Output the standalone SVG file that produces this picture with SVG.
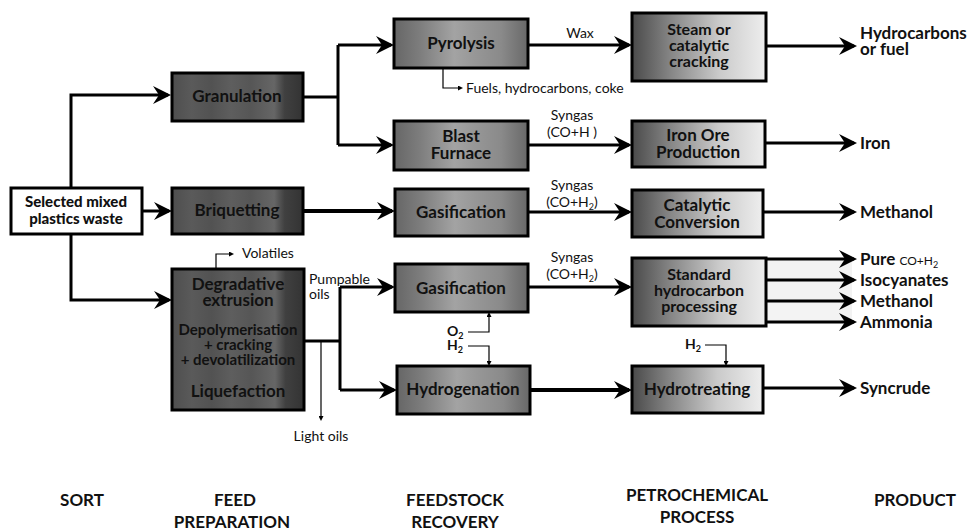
<svg xmlns="http://www.w3.org/2000/svg" width="975" height="532" viewBox="0 0 975 532">
<style>
.box{stroke:#000;stroke-width:3}
.t{font-family:Lato,'Liberation Sans',sans-serif;font-weight:bold;font-size:16px;text-anchor:middle;fill:#111}
.big{font-size:17px}
.lbl{font-family:Lato,'Liberation Sans',sans-serif;font-size:14px;fill:#111}
.mid{text-anchor:middle}
.prod{font-family:Lato,'Liberation Sans',sans-serif;font-weight:bold;font-size:17px;fill:#111}
.cat{font-family:Lato,'Liberation Sans',sans-serif;font-weight:bold;font-size:17px;text-anchor:middle;fill:#111}
.thick{stroke:#000;stroke-width:3;fill:none;marker-end:url(#ah)}
.thick4{stroke:#000;stroke-width:3.8;fill:none;marker-end:url(#ah)}
.line{stroke:#000;stroke-width:3;fill:none}
.thin{stroke:#000;stroke-width:1.2;fill:none;marker-end:url(#sa)}
</style>
<defs>
<marker id="ah" markerUnits="userSpaceOnUse" markerWidth="18" markerHeight="18" viewBox="0 0 18 18" refX="15" refY="9" orient="auto"><path d="M0,0 L18,9 L0,18 L6,9 Z" fill="#000"/></marker>
<marker id="sa" markerUnits="userSpaceOnUse" markerWidth="5" markerHeight="5" viewBox="0 0 5 5" refX="0" refY="2.5" orient="auto"><path d="M0,0 L5,2.5 L0,5 Z" fill="#000"/></marker>
<linearGradient id="gDark" x1="0" y1="0" x2="1" y2="0">
<stop offset="0" stop-color="#4e4e4e"/><stop offset="0.15" stop-color="#5a5a5a"/><stop offset="0.3" stop-color="#525252"/><stop offset="0.45" stop-color="#5e5e5e"/><stop offset="0.6" stop-color="#565656"/><stop offset="0.78" stop-color="#666"/><stop offset="0.86" stop-color="#404040"/><stop offset="1" stop-color="#333"/>
</linearGradient>
<linearGradient id="gMid" x1="0" y1="0" x2="1" y2="0">
<stop offset="0" stop-color="#666"/><stop offset="0.2" stop-color="#7e7e7e"/><stop offset="0.45" stop-color="#a3a3a3"/><stop offset="0.6" stop-color="#979797"/><stop offset="0.8" stop-color="#8a8a8a"/><stop offset="1" stop-color="#686868"/>
</linearGradient>
<linearGradient id="gLight" x1="0" y1="0" x2="1" y2="0">
<stop offset="0" stop-color="#4a4a4a"/><stop offset="0.3" stop-color="#888"/><stop offset="0.65" stop-color="#cacaca"/><stop offset="1" stop-color="#eee"/>
</linearGradient>
</defs>
<rect width="975" height="532" fill="#fff"/>

<g id="connectors">
<rect x="766" y="259" width="86" height="63" fill="#f3f3f3"/>
<path class="thick" d="M71,188 V95 H168"/>
<path class="thick" d="M71,234 V300 H169"/>
<path class="thick" d="M142,211 H169"/>
<path class="line" d="M303,97 H338 M338,45 V145"/>
<path class="thick" d="M338,45 H391"/>
<path class="thick" d="M338,145 H391"/>
<path class="thick" d="M528,45 H629"/>
<path class="thick" d="M528,145 H629"/>
<path class="thick" d="M766,46 H854"/>
<path class="thick" d="M765,143 H854"/>
<path class="thick4" d="M303,211 H392"/>
<path class="thick" d="M528,212 H629"/>
<path class="thick" d="M763,212 H854"/>
<path class="line" d="M304,341 H340 M340,287 V390"/>
<path class="thick" d="M340,287 H392"/>
<path class="thick" d="M340,390 H394"/>
<path class="thick" d="M528,287 H629"/>
<path class="thick4" d="M530,390 H629"/>
<path class="thick" d="M763,388 H854"/>
<path class="thick" d="M766,259 H854"/>
<path class="thick" d="M766,280 H854"/>
<path class="thick" d="M766,301 H854"/>
<path class="thick" d="M766,322 H854"/>
<path class="thin" d="M443,68 V88 H458"/>
<path class="thin" d="M216,269 V254 H229"/>
<path class="thin" d="M321,341 V416"/>
<path class="thin" d="M468,332 H489 V317"/>
<path class="thin" d="M468,346 H489 V361"/>
<path class="thin" d="M705,345 H726 V361"/>
</g>

<g id="n-selected"><rect class="box" x="11" y="188" width="131" height="46" fill="#fff"/>
<text class="t" x="76" y="207" style="font-weight:900;font-size:15px">Selected mixed</text>
<text class="t" x="76" y="224" style="font-weight:900;font-size:15px">plastics waste</text></g>

<g id="n-granulation"><rect class="box" x="172" y="73" width="131" height="48" fill="url(#gDark)"/><text class="t big" x="237" y="102">Granulation</text></g>
<g id="n-briquetting"><rect class="box" x="172" y="188" width="131" height="46" fill="url(#gDark)"/><text class="t big" x="237" y="216">Briquetting</text></g>
<g id="n-degradative"><rect class="box" x="172" y="269" width="132" height="141" fill="url(#gDark)"/>
<text class="t big" x="238" y="290">Degradative</text>
<text class="t big" x="238" y="306">extrusion</text>
<text class="t" x="238" y="335" style="font-size:15px">Depolymerisation</text>
<text class="t" x="238" y="350" style="font-size:15px">+ cracking</text>
<text class="t" x="238" y="365" style="font-size:15px">+ devolatilization</text>
<text class="t big" x="238" y="397">Liquefaction</text></g>

<g id="n-pyrolysis"><rect class="box" x="394" y="19" width="134" height="49" fill="url(#gMid)"/><text class="t big" x="461" y="49">Pyrolysis</text></g>
<g id="n-blast"><rect class="box" x="394" y="121" width="134" height="49" fill="url(#gMid)"/><text class="t big" x="461" y="142">Blast</text><text class="t big" x="461" y="159">Furnace</text></g>
<g id="n-gasification1"><rect class="box" x="395" y="189" width="133" height="47" fill="url(#gMid)"/><text class="t big" x="461" y="218">Gasification</text></g>
<g id="n-gasification2"><rect class="box" x="395" y="264" width="133" height="48" fill="url(#gMid)"/><text class="t big" x="461" y="294">Gasification</text></g>
<g id="n-hydrogenation"><rect class="box" x="397" y="366" width="133" height="48" fill="url(#gMid)"/><text class="t big" x="463" y="395">Hydrogenation</text></g>

<g id="n-steam"><rect class="box" x="632" y="13" width="134" height="68" fill="url(#gLight)"/><text class="t" x="699" y="35">Steam or</text><text class="t" x="699" y="51">catalytic</text><text class="t" x="699" y="67">cracking</text></g>
<g id="n-ironore"><rect class="box" x="632" y="121" width="133" height="46" fill="url(#gLight)"/><text class="t big" x="698" y="141">Iron Ore</text><text class="t big" x="698" y="158">Production</text></g>
<g id="n-catalytic"><rect class="box" x="632" y="190" width="131" height="47" fill="url(#gLight)"/><text class="t big" x="697" y="211">Catalytic</text><text class="t big" x="697" y="228">Conversion</text></g>
<g id="n-standard"><rect class="box" x="632" y="258" width="134" height="68" fill="url(#gLight)"/><text class="t" x="699" y="280">Standard</text><text class="t" x="699" y="296">hydrocarbon</text><text class="t" x="699" y="312">processing</text></g>
<g id="n-hydrotreating"><rect class="box" x="632" y="366" width="131" height="47" fill="url(#gLight)"/><text class="t big" x="697" y="395">Hydrotreating</text></g>

<g id="labels">
<text class="lbl mid" x="580" y="38">Wax</text>
<text class="lbl" x="466" y="93">Fuels, hydrocarbons, coke</text>
<text class="lbl mid" x="572" y="120">Syngas</text>
<text class="lbl mid" x="572" y="137">(CO+H )</text>
<text class="lbl mid" x="572" y="190">Syngas</text>
<text class="lbl mid" x="572" y="207">(CO+H<tspan font-size="9" dy="3">2</tspan><tspan dy="-3">)</tspan></text>
<text class="lbl mid" x="572" y="262">Syngas</text>
<text class="lbl mid" x="572" y="279">(CO+H<tspan font-size="9" dy="3">2</tspan><tspan dy="-3">)</tspan></text>
<text class="lbl" x="242" y="258">Volatiles</text>
<text class="lbl" x="309" y="284">Pumpable</text>
<text class="lbl" x="309" y="299">oils</text>
<text class="lbl mid" x="321" y="441">Light oils</text>
<text class="lbl" x="447" y="336" style="font-weight:bold">O<tspan font-size="9" dy="3">2</tspan></text>
<text class="lbl" x="447" y="350" style="font-weight:bold">H<tspan font-size="9" dy="3">2</tspan></text>
<text class="lbl" x="685" y="349" style="font-weight:bold">H<tspan font-size="9" dy="3">2</tspan></text>
<text class="prod" x="860" y="39">Hydrocarbons</text>
<text class="prod" x="860" y="55">or fuel</text>
<text class="prod" x="860" y="149">Iron</text>
<text class="prod" x="860" y="218">Methanol</text>
<text class="prod" x="860" y="265">Pure <tspan font-size="12" font-weight="normal">CO+H</tspan><tspan font-size="9" font-weight="normal" dy="3">2</tspan></text>
<text class="prod" x="860" y="286">Isocyanates</text>
<text class="prod" x="860" y="307">Methanol</text>
<text class="prod" x="860" y="328">Ammonia</text>
<text class="prod" x="860" y="394">Syncrude</text>
<text class="cat" x="82" y="506">SORT</text>
<text class="cat" x="235" y="506">FEED</text>
<text class="cat" x="232" y="528">PREPARATION</text>
<text class="cat" x="455" y="506">FEEDSTOCK</text>
<text class="cat" x="455" y="528">RECOVERY</text>
<text class="cat" x="697" y="501">PETROCHEMICAL</text>
<text class="cat" x="697" y="523">PROCESS</text>
<text class="cat" x="915" y="506">PRODUCT</text>
</g>
</svg>
